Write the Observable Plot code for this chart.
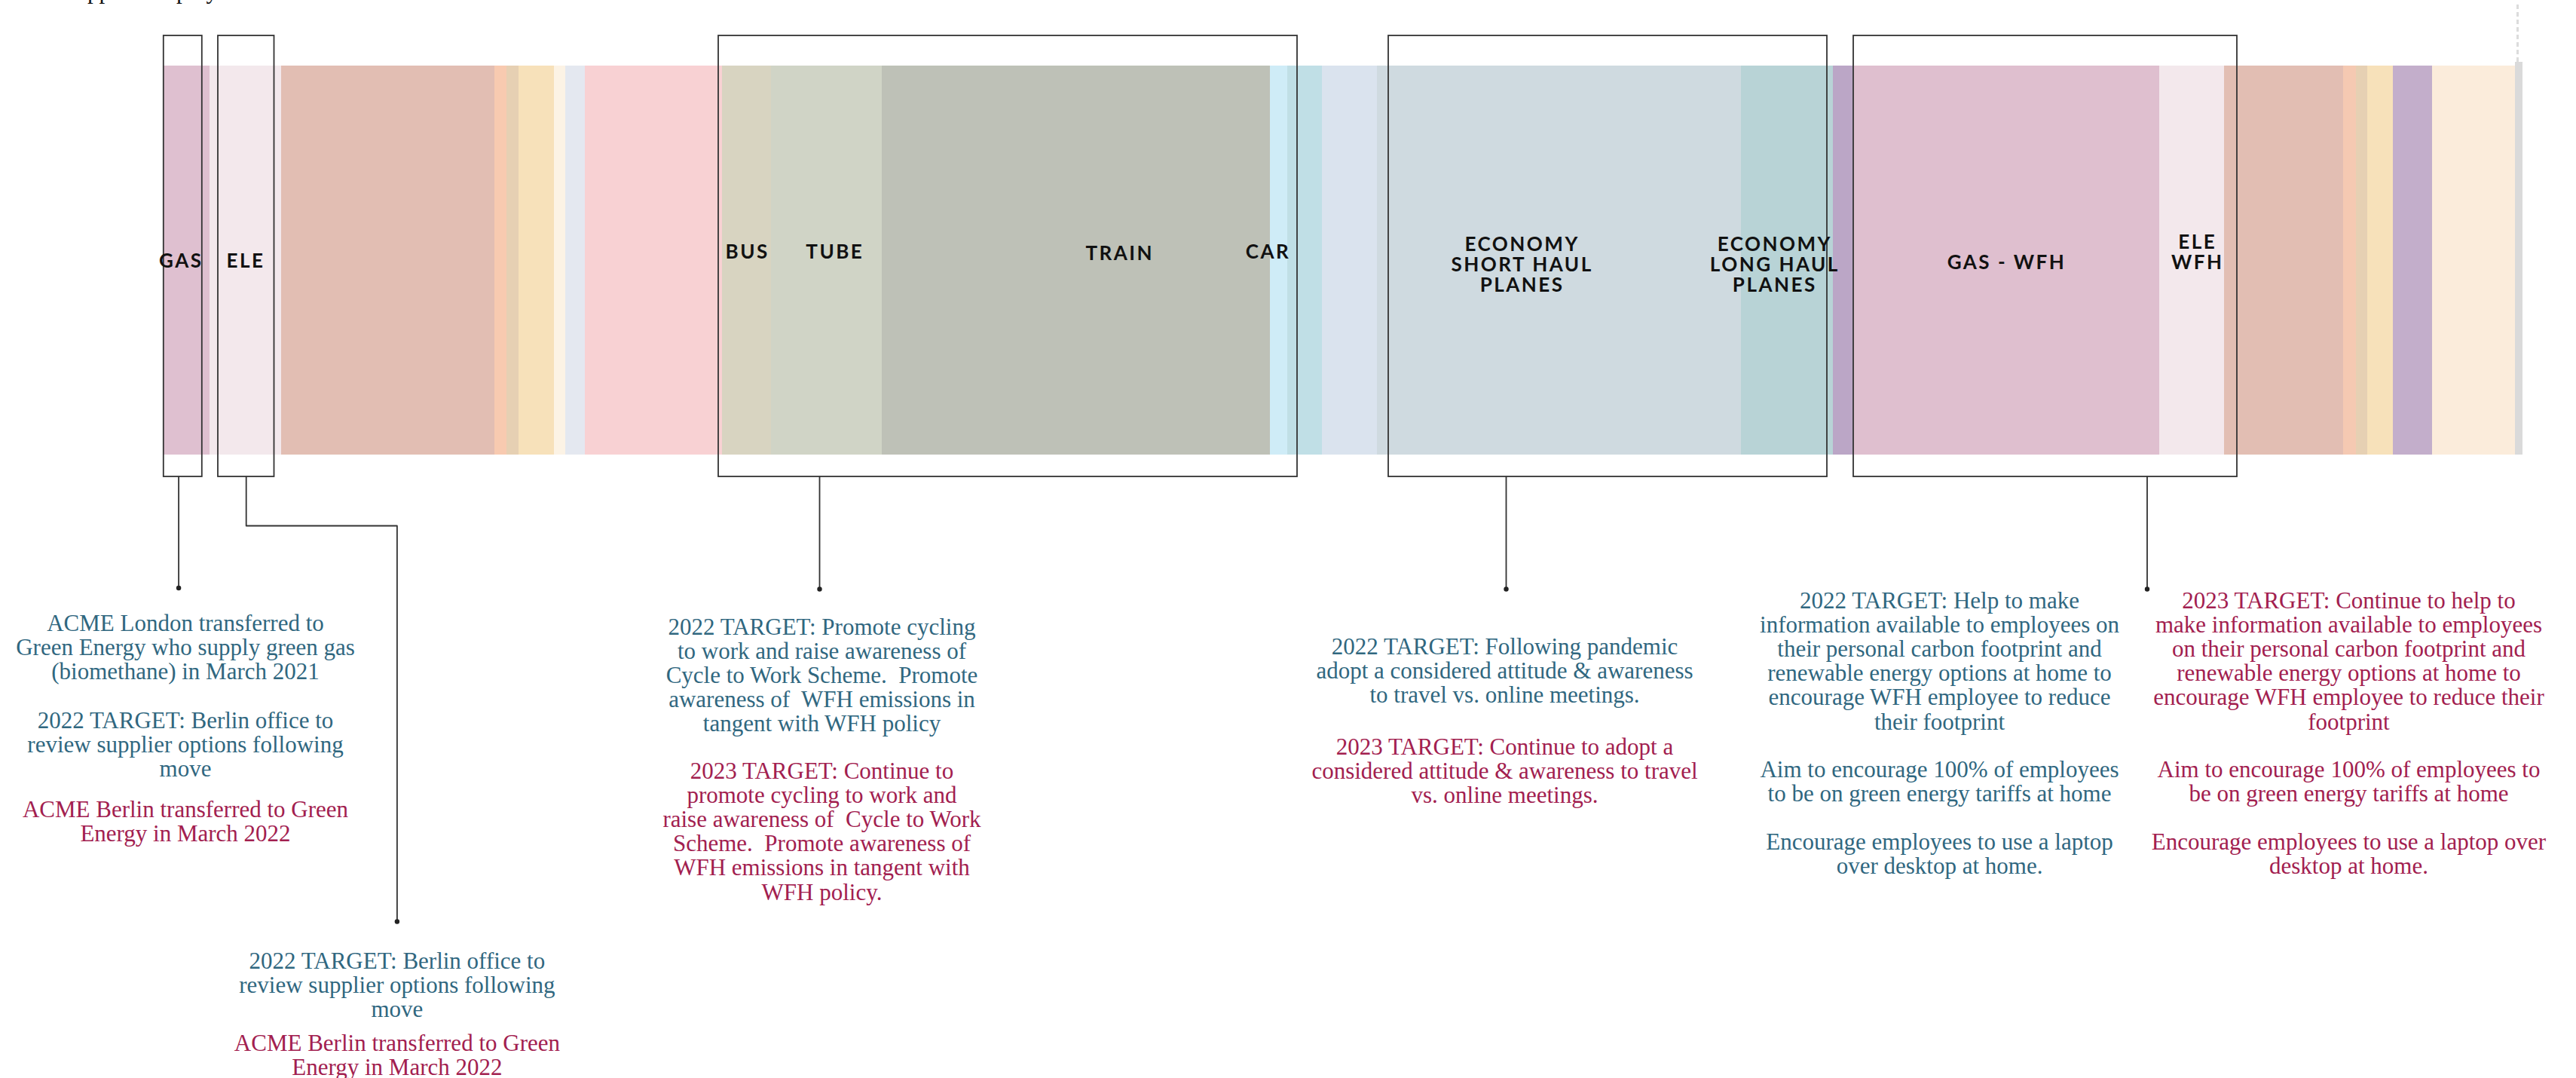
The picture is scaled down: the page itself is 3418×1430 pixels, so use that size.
<!DOCTYPE html>
<html>
<head>
<meta charset="utf-8">
<script src="https://cdn.jsdelivr.net/npm/d3@7"></script>
<script src="https://cdn.jsdelivr.net/npm/@observablehq/plot@0.6"></script>
<style>
  html, body { margin: 0; padding: 0; background: #fff; }
  #chart { width: 3418px; height: 1430px; overflow: hidden; }
</style>
</head>
<body>
<div id="chart"></div>
<script>
// ---------------- DATA ----------------
const segmentIds = ["gas", "electricity", "s3", "s4", "s5", "s6", "s7", "s8", "s9",
  "bus", "tube", "train", "car", "s14", "s15", "shortHaul", "longHaul", "s18",
  "gasWfh", "eleWfh", "s21", "s22", "s23", "s24", "s25", "s26", "s27"];
const segmentLabels = ["GAS", "ELE", "", "", "", "", "", "", "",
  "BUS", "TUBE", "TRAIN", "CAR", "", "", "ECONOMY\nSHORT HAUL\nPLANES", "ECONOMY\nLONG HAUL\nPLANES", "",
  "GAS - WFH", "ELE\nWFH", "", "", "", "", "", "", ""];
const segmentValues = [6.12, 9.5, 28.3, 1.6, 1.6, 4.7, 1.5, 2.6, 18.2,
  6.5, 14.7, 51.5, 2.3, 4.6, 7.3, 48.3, 12.2, 2.7,
  40.6, 8.6, 15.8, 1.7, 1.5, 3.4, 5.2, 11.0, 1.0];

const groupIds = ["gas", "ele", "transport", "planes", "wfh"];
const groupFirst = ["gas", "electricity", "bus", "shortHaul", "gasWfh"];
const groupLast = ["gas", "electricity", "car", "longHaul", "eleWfh"];

const noteGas = [
  {year: "2022", lines: ["ACME London transferred to", "Green Energy who supply green gas", "(biomethane) in March 2021"]},
  {year: "2022", lines: ["2022 TARGET: Berlin office to", "review supplier options following", "move"]},
  {year: "2023", lines: ["ACME Berlin transferred to Green", "Energy in March 2022"]}
];
const noteEle = [
  {year: "2022", lines: ["2022 TARGET: Berlin office to", "review supplier options following", "move"]},
  {year: "2023", lines: ["ACME Berlin transferred to Green", "Energy in March 2022"]}
];
const noteTransport = [
  {year: "2022", lines: ["2022 TARGET: Promote cycling", "to work and raise awareness of", "Cycle to Work Scheme.  Promote", "awareness of  WFH emissions in", "tangent with WFH policy"]},
  {year: "2023", lines: ["2023 TARGET: Continue to", "promote cycling to work and", "raise awareness of  Cycle to Work", "Scheme.  Promote awareness of", "WFH emissions in tangent with", "WFH policy."]}
];
const notePlanes = [
  {year: "2022", lines: ["2022 TARGET: Following pandemic", "adopt a considered attitude & awareness", "to travel vs. online meetings."]},
  {year: "2023", lines: ["2023 TARGET: Continue to adopt a", "considered attitude & awareness to travel", "vs. online meetings."]}
];
const noteWfh2022 = [
  {year: "2022", lines: ["2022 TARGET: Help to make", "information available to employees on", "their personal carbon footprint and", "renewable energy options at home to", "encourage WFH employee to reduce", "their footprint"]},
  {year: "2022", lines: ["Aim to encourage 100% of employees", "to be on green energy tariffs at home"]},
  {year: "2022", lines: ["Encourage employees to use a laptop", "over desktop at home."]}
];
const noteWfh2023 = [
  {year: "2023", lines: ["2023 TARGET: Continue to help to", "make information available to employees", "on their personal carbon footprint and", "renewable energy options at home to", "encourage WFH employee to reduce their", "footprint"]},
  {year: "2023", lines: ["Aim to encourage 100% of employees to", "be on green energy tariffs at home"]},
  {year: "2023", lines: ["Encourage employees to use a laptop over", "desktop at home."]}
];
const headerText = "supplier employees";

// ---------------- STYLE / LAYOUT ----------------
const palette = ["#dfc0d0", "#f3e8ec", "#e2beb3", "#f8cab0", "#e6d0b3", "#f7e1ba", "#fcf3e5", "#e4e8f0", "#f8d1d3",
  "#d8d4c1", "#d0d4c6", "#bec1b7", "#cfecf7", "#c0dfe6", "#dae3ee", "#cfdae0", "#b8d3d6", "#bba6c6",
  "#dfbfcf", "#f3e8ec", "#e2beb3", "#f5c9b2", "#e6d0b3", "#f7e1ba", "#c3aecb", "#fbecdb", "#dadada"];
const BLUE = "#30677f", CRIMSON = "#a2204f";
const W = 3418, H = 1430;
const X_START = 216.8, X_END = 3347;
const BAR_TOP = 86.5, BAR_BOTTOM = 602.5, BOX_TOP = 47, BOX_BOTTOM = 632;
const BAR_MID = (BAR_TOP + BAR_BOTTOM) / 2;
const RAISED = {s27: 4.5};
const LABEL_DX = {gas: -7.6, electricity: 0, bus: 0.7, tube: 10.8, train: 57.7, car: -14.5, shortHaul: -49.4, longHaul: -16.7, gasWfh: 0, eleWfh: 7.3};
const LABEL_DY = {gas: 1.5, electricity: 1.5, bus: -10.5, tube: -10.5, train: -8.5, car: -10.5, shortHaul: 6.5, longHaul: 6.5, gasWfh: 3.5, eleWfh: -10};
const BOX_INSET = {gas: [0, -10.2], ele: [11, -9.5], transport: [-5, 13], planes: [15, -8], wfh: [0, 17]};
const ANCHOR_PX = {gas: 236.6, ele: 326.2, transport: 1087, planes: 1998, wfh: 2848.5};
const DOT_Y = {gas: 779.5, ele: 1222, transport: 781, planes: 781, wfh: 781};
const ELE_ELBOW = {y: 697, x: 526.4};
const NOTE_LAYOUT = [
  {note: noteGas, cx: 245.5, baselines: [836, 965, 1083]},
  {note: noteEle, cx: 526.4, baselines: [1284, 1393]},
  {note: noteTransport, cx: 1090, baselines: [841, 1032]},
  {note: notePlanes, cx: 1996, baselines: [867, 1000]},
  {note: noteWfh2022, cx: 2573, baselines: [806, 1030, 1126]},
  {note: noteWfh2023, cx: 3116, baselines: [806, 1030, 1126]}
];
const LINE_H = 32.2;
const DASH_X_PX = 3340;

// ---------------- DERIVED ----------------
const total = d3.sum(segmentValues);
const k = (X_END - X_START) / total;          // px per unit
const pxToData = px => (px - X_START) / k;
const ends = d3.cumsum(segmentValues);
const segments = segmentIds.map((id, i) => ({
  id, label: segmentLabels[i], value: segmentValues[i],
  x1: ends[i] - segmentValues[i], x2: ends[i]
}));
const segById = new Map(segments.map(s => [s.id, s]));

const groups = groupIds.map((id, i) => ({
  id,
  x1: segById.get(groupFirst[i]).x1 + BOX_INSET[id][0] / k,
  x2: segById.get(groupLast[i]).x2 + BOX_INSET[id][1] / k
}));

const connectorPts = [];
const dotPts = [];
for (const g of groupIds) {
  const ax = pxToData(ANCHOR_PX[g]);
  connectorPts.push({z: g, x: ax, y: BOX_BOTTOM});
  if (g === "ele") {
    const ex = pxToData(ELE_ELBOW.x);
    connectorPts.push({z: g, x: ax, y: ELE_ELBOW.y});
    connectorPts.push({z: g, x: ex, y: ELE_ELBOW.y});
    connectorPts.push({z: g, x: ex, y: DOT_Y[g]});
    dotPts.push({x: ex, y: DOT_Y[g]});
  } else {
    connectorPts.push({z: g, x: ax, y: DOT_Y[g]});
    dotPts.push({x: ax, y: DOT_Y[g]});
  }
}

const textRows = [];
for (const block of NOTE_LAYOUT) {
  block.note.forEach((para, pi) => {
    para.lines.forEach((line, li) => {
      textRows.push({x: pxToData(block.cx), y: block.baselines[pi] + li * LINE_H, text: line, year: para.year});
    });
  });
}

const labeled = segments.filter(s => s.label);

const chart = Plot.plot({
  width: W,
  height: H,
  margin: 0,
  style: {background: "#ffffff", overflow: "hidden"},
  x: {domain: [0, total], range: [X_START, X_END], axis: null},
  y: {type: "identity", axis: null},
  color: {type: "ordinal", domain: segmentIds, range: palette},
  marks: [
    Plot.rect(segments, {
      x1: "x1", x2: "x2",
      y1: d => BAR_TOP - (RAISED[d.id] || 0), y2: BAR_BOTTOM,
      fill: "id", shapeRendering: "crispEdges"
    }),
    Plot.ruleX([pxToData(DASH_X_PX)], {y1: 6, y2: BAR_TOP - 4.5, stroke: "#dcdcdc", strokeWidth: 3, strokeDasharray: "6,4"}),
    Plot.rect(groups, {x1: "x1", x2: "x2", y1: BOX_TOP, y2: BOX_BOTTOM, fill: "none", stroke: "#333", strokeWidth: 1.8}),
    Plot.text(labeled, {
      x: d => (d.x1 + d.x2) / 2 + (LABEL_DX[d.id] || 0) / k,
      y: d => BAR_MID + (LABEL_DY[d.id] || 0),
      text: "label", fill: "#111", fontFamily: "Lato, 'Open Sans', sans-serif",
      fontWeight: "bold", fontSize: 26, lineHeight: 1.03, textAnchor: "middle", lineAnchor: "middle"
    }),
    Plot.line(connectorPts, {x: "x", y: "y", z: "z", stroke: "#333", strokeWidth: 1.8}),
    Plot.dot(dotPts, {x: "x", y: "y", r: 3.2, fill: "#222", stroke: "none"}),
    Plot.text(textRows.filter(d => d.year === "2022"), {
      x: "x", y: "y", text: "text", fill: BLUE, fontFamily: "'Liberation Serif', 'Times New Roman', serif",
      fontSize: 31, textAnchor: "middle", lineAnchor: "bottom"
    }),
    Plot.text(textRows.filter(d => d.year === "2023"), {
      x: "x", y: "y", text: "text", fill: CRIMSON, fontFamily: "'Liberation Serif', 'Times New Roman', serif",
      fontSize: 31, textAnchor: "middle", lineAnchor: "bottom"
    }),
    Plot.text([headerText], {
      x: pxToData(88), y: -3, text: d => d, fill: "#111", fontFamily: "'Liberation Serif', serif",
      fontSize: 31, textAnchor: "start", lineAnchor: "bottom"
    })
  ]
});

d3.select(chart).selectAll("g[font-family^='Lato']").attr("letter-spacing", "2.5px");
document.getElementById("chart").appendChild(chart);
</script>
</body>
</html>
